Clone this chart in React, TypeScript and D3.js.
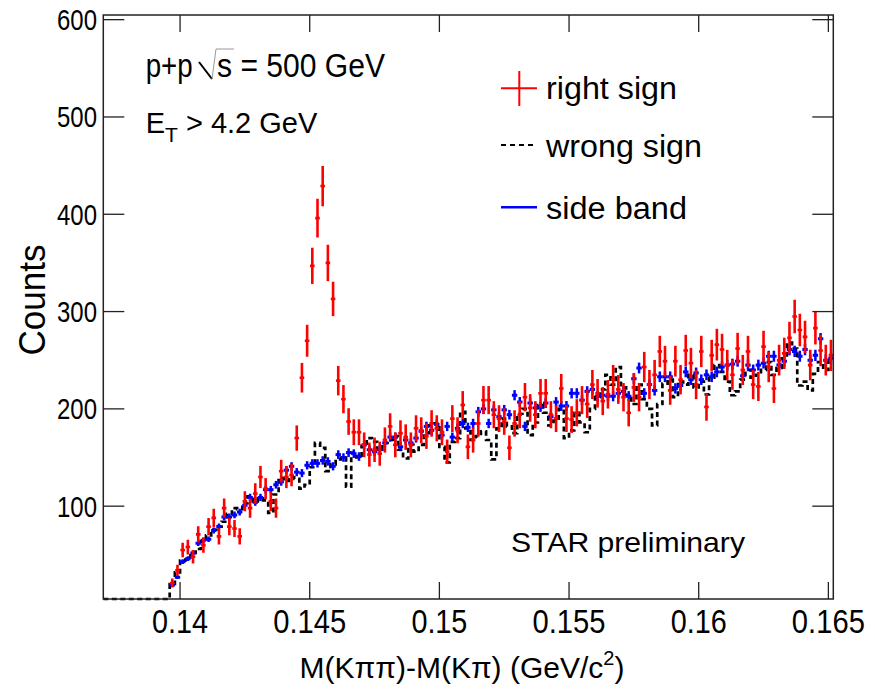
import React from "react";
import * as d3 from "d3";

// Histogram binning (GeV/c^2)
const binStart = 0.1396;
const binWidth = 0.0002;

// right sign (red, with Poisson errors)
const rightSign = [
  21, 34, 55, 58, 48, 71, 60, 79, 88, 69,
  98, 79, 77, 69, 105, 98, 113, 130, 118, 105,
  98, 136, 130, 132, 170, 232, 270, 347, 396, 429,
  350, 313, 229, 210, 187, 176, 176, 163, 153, 158,
  154, 168, 182, 163, 175, 171, 163, 180, 178, 172,
  185, 180, 176, 156, 190, 178, 204, 161, 168, 185,
  209, 209, 194, 190, 187, 160, 185, 194, 212, 201,
  194, 216, 216, 194, 190, 221, 190, 189, 196, 209,
  205, 225, 216, 208, 215, 230, 220, 212, 196, 222,
  212, 243, 225, 235, 259, 249, 219, 249, 230, 260,
  247, 225, 259, 202, 255, 266, 261, 245, 235, 262,
  240, 259, 225, 223, 264, 243, 221, 250, 257, 273,
  295, 281, 274, 245, 283, 260, 250, 255,
];

// wrong sign (black dashed histogram)
const wrongSign = [
  20, 32, 44, 45, 52, 56, 64, 70, 76, 79,
  84, 92, 98, 97, 103, 110, 105, 108, 106, 93,
  112, 129, 126, 130, 128, 118, 122, 140, 165, 160,
  136, 143, 148, 150, 120, 155, 150, 162, 170, 166,
  158, 165, 168, 172, 158, 149, 163, 156, 163, 175,
  183, 185, 161, 145, 166, 170, 197, 180, 168, 172,
  177, 168, 148, 180, 190, 182, 175, 195, 200, 173,
  186, 204, 196, 183, 188, 200, 170, 178, 196, 186,
  176, 200, 212, 220, 235, 225, 243, 222, 214, 205,
  225, 210, 200, 183, 205, 226, 230, 212, 228, 225,
  235, 222, 228, 215, 232, 245, 238, 228, 214, 218,
  230, 240, 232, 235, 240, 248, 235, 242, 252, 268,
  262, 224, 228, 219, 236, 248, 240, 250,
];

// side band (blue points)
const sideBand = [
  19, 27, 43, 46, 52, 62, 65, 66, 75, 79,
  89, 89, 91, 94, 101, 109, 104, 109, 117, 117,
  122, 125, 137, 141, 135, 134, 142, 144, 144, 147,
  146, 141, 153, 150, 155, 154, 151, 163, 158, 156,
  158, 165, 171, 171, 161, 168, 165, 170, 177, 182,
  178, 184, 173, 182, 171, 180, 185, 181, 185, 197,
  200, 185, 199, 192, 199, 194, 214, 207, 182, 206,
  201, 202, 206, 192, 207, 203, 203, 216, 216, 209,
  218, 220, 213, 214, 213, 213, 216, 218, 213, 231,
  242, 216, 225, 219, 233, 233, 233, 221, 224, 238,
  230, 237, 230, 235, 233, 238, 243, 245, 246, 249,
  234, 245, 240, 245, 247, 254, 254, 245, 249, 261,
  259, 254, 261, 250, 255, 272, 250, 252,
];

const xTickValues = [0.14, 0.145, 0.15, 0.155, 0.16, 0.165];
const xTickLabels = ["0.14", "0.145", "0.15", "0.155", "0.16", "0.165"];
const yTickValues = [100, 200, 300, 400, 500, 600];
const yTickLabels = ["100", "200", "300", "400", "500", "600"];

const legendLabels = ["right sign", "wrong sign", "side band"];

const FONT = "'Liberation Sans', Arial, Helvetica, sans-serif";

export default function App() {
  const W = 875;
  const H = 692;
  const L = 103.3, R = 833.3, T = 15, B = 599;
  const x = d3.scaleLinear().domain([0.13704, 0.16519]).range([L, R]);
  const y = d3.scaleLinear().domain([4.6, 604.8]).range([B, T]);
  const yc = y.copy().clamp(true);

  const center = (k: number) => binStart + binWidth * (k + 0.5);

  // wrong-sign step histogram
  const stepPts: [number, number][] = [];
  stepPts.push([x.domain()[0], 0]);
  stepPts.push([binStart, 0]);
  wrongSign.forEach((v, k) => {
    const lo = binStart + binWidth * k;
    stepPts.push([lo, v]);
    stepPts.push([lo + binWidth, v]);
  });
  const stepLine = d3
    .line<[number, number]>()
    .x((d) => x(d[0]))
    .y((d) => yc(d[1]));

  const red = "#ff0000";
  const blue = "#0000ff";
  const axisColor = "#222";

  const xTickLen = 17;
  const yTickLen = 21;

  return (
    <svg
      width={W}
      height={H}
      style={{ position: "absolute", left: 0, top: 0, background: "#fff" }}
      fontFamily={FONT}
    >
      <rect x={0} y={0} width={W} height={H} fill="#fff" />
      <defs>
        <clipPath id="frame">
          <rect x={L} y={T} width={R - L} height={B - T + 3} />
        </clipPath>
      </defs>

      {/* data */}
      <g clipPath="url(#frame)">
        <path
          d={stepLine(stepPts) || ""}
          fill="none"
          stroke="#000"
          strokeWidth={2.7}
          strokeDasharray="5,3.5"
        />
        {sideBand.map((v, k) => {
          const cx = x(center(k));
          const e = Math.sqrt(v) / 2.8;
          return (
            <g key={"b" + k} stroke={blue}>
              <line x1={cx} x2={cx} y1={y(v - e)} y2={y(v + e)} strokeWidth={2.5} />
              <line x1={cx - 2.7} x2={cx + 2.7} y1={y(v)} y2={y(v)} strokeWidth={3} />
            </g>
          );
        })}
        {rightSign.map((v, k) => {
          const cx = x(center(k));
          const e = Math.sqrt(v);
          return (
            <g key={"r" + k} stroke={red}>
              <line x1={cx} x2={cx} y1={y(v - e)} y2={y(v + e)} strokeWidth={2.6} />
              <line x1={cx - 2.3} x2={cx + 2.3} y1={y(v)} y2={y(v)} strokeWidth={2.6} />
            </g>
          );
        })}
      </g>

      {/* frame */}
      <rect x={L} y={T} width={R - L} height={B - T} fill="none" stroke={axisColor} strokeWidth={1.5} />

      {/* x ticks */}
      {xTickValues.map((v, i) => (
        <g key={"xt" + i}>
          <line x1={x(v)} x2={x(v)} y1={B} y2={B - xTickLen} stroke={axisColor} strokeWidth={1.3} />
          <line x1={x(v)} x2={x(v)} y1={T} y2={T + xTickLen} stroke={axisColor} strokeWidth={1.3} />
          <text
            x={x(v)}
            y={633}
            fontSize={33}
            textAnchor="middle"
            fill="#000"
            textLength={xTickLabels[i].length === 4 ? 56 : 73}
            lengthAdjust="spacingAndGlyphs"
          >
            {xTickLabels[i]}
          </text>
        </g>
      ))}

      {/* y ticks */}
      {yTickValues.map((v, i) => (
        <g key={"yt" + i}>
          <line x1={L} x2={L + yTickLen} y1={y(v)} y2={y(v)} stroke={axisColor} strokeWidth={1.3} />
          <line x1={R} x2={R - yTickLen} y1={y(v)} y2={y(v)} stroke={axisColor} strokeWidth={1.3} />
          <text
            x={97}
            y={y(v) + 10.5}
            fontSize={30}
            textAnchor="end"
            fill="#000"
            textLength={40}
            lengthAdjust="spacingAndGlyphs"
          >
            {yTickLabels[i]}
          </text>
        </g>
      ))}

      {/* axis titles */}
      <text x={462} y={678} fontSize={30} textAnchor="middle" fill="#000">
        M(Kππ)-M(Kπ) (GeV/c<tspan dy={-13} fontSize={20}>2</tspan>
        <tspan dy={13}>)</tspan>
      </text>
      <text
        transform="translate(45,300) rotate(-90)"
        fontSize={36}
        textAnchor="middle"
        fill="#000"
        textLength={111}
        lengthAdjust="spacingAndGlyphs"
      >
        Counts
      </text>

      {/* annotations */}
      <text x={145.7} y={77} fontSize={33} fill="#000" textLength={47} lengthAdjust="spacingAndGlyphs">
        p+p
      </text>
      <path d="M199,62 L212,79" stroke="#000" strokeWidth={2} fill="none" />
      <path d="M212,79 L216,49 L234,49" stroke="#999" strokeWidth={1} fill="none" />
      <text x={217} y={77} fontSize={33} fill="#000" textLength={168} lengthAdjust="spacingAndGlyphs">
        s = 500 GeV
      </text>

      <text x={145.7} y={133} fontSize={29} fill="#000">
        E<tspan dy={9} fontSize={21}>T</tspan>
        <tspan dy={-9}>{" > 4.2 GeV"}</tspan>
      </text>

      <text x={511} y={552} fontSize={28} fill="#000" textLength={234} lengthAdjust="spacingAndGlyphs">
        STAR preliminary
      </text>

      {/* legend */}
      <g>
        <line x1={501} x2={537} y1={88.3} y2={88.3} stroke={red} strokeWidth={2} />
        <line x1={519.3} x2={519.3} y1={71} y2={106} stroke={red} strokeWidth={2} />
        <text x={546} y={99} fontSize={31} fill="#000" textLength={131} lengthAdjust="spacingAndGlyphs">
          {legendLabels[0]}
        </text>
        <line x1={501} x2={537} y1={145} y2={145} stroke="#000" strokeWidth={2} strokeDasharray="5,4" />
        <text x={546} y={157} fontSize={31} fill="#000" textLength={156} lengthAdjust="spacingAndGlyphs">
          {legendLabels[1]}
        </text>
        <line x1={501} x2={537} y1={207.3} y2={207.3} stroke={blue} strokeWidth={2.5} />
        <text x={546} y={219} fontSize={31} fill="#000" textLength={141} lengthAdjust="spacingAndGlyphs">
          {legendLabels[2]}
        </text>
      </g>
    </svg>
  );
}
